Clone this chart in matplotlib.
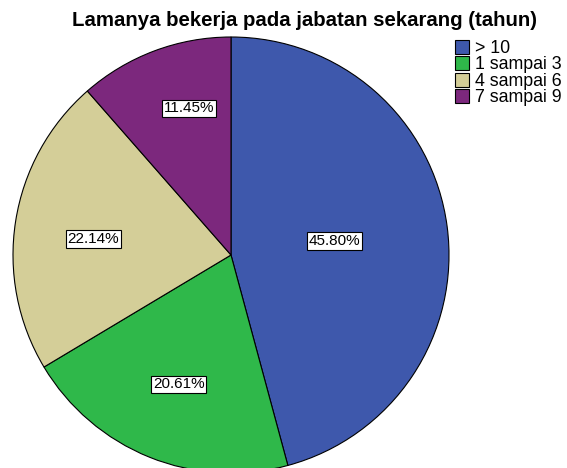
import numpy as np
import matplotlib.pyplot as plt

plt.rcParams['font.family'] = ['Liberation Sans', 'DejaVu Sans']

categories = ['> 10', '1 sampai 3', '4 sampai 6', '7 sampai 9']
percents = [45.80, 20.61, 22.14, 11.45]
colors = ['#3E58AC', '#2FB84A', '#D4CE98', '#7C287D']
# where each percentage box sits: fraction of radius, nudge in degrees
label_r = [0.48, 0.64, 0.635, 0.70]
label_nudge = [0, 0, 2.3, -4.5]

W, H = 567, 468
fig = plt.figure(figsize=(W / 100, H / 100), dpi=100)

# pie axes: centre (231, 255) px, radius 218 px
cx, cy, r = 231, 255, 218
ax = fig.add_axes([(cx - r) / W, (H - cy - r) / H, 2 * r / W, 2 * r / H])
wedges, _ = ax.pie(percents, colors=colors, startangle=90, counterclock=False,
                   radius=1, wedgeprops=dict(edgecolor='black', linewidth=0.8))
ax.set_xlim(-1, 1)
ax.set_ylim(-1, 1)
ax.axis('off')

for w, p, lr, nd in zip(wedges, percents, label_r, label_nudge):
    ang = np.deg2rad((w.theta1 + w.theta2) / 2 + nd)
    ax.text(lr * np.cos(ang), lr * np.sin(ang), '{:.2f}%'.format(p),
            ha='center', va='center', fontsize=11,
            bbox=dict(boxstyle='square,pad=0.12', facecolor='white',
                      edgecolor='black', linewidth=0.8))

fig.text(305 / W, 1 - 20 / H, 'Lamanya bekerja pada jabatan sekarang (tahun)',
         ha='center', va='center', fontsize=14.7, fontweight='bold')

fig.legend(wedges, categories, loc='upper left',
           bbox_to_anchor=(455 / W, 1 - 40 / H), frameon=False,
           fontsize=12.8, handlelength=0.8, handleheight=0.8,
           handletextpad=0.3, labelspacing=-0.03, borderpad=0, borderaxespad=0)

fig.savefig('out.png', dpi=100)
